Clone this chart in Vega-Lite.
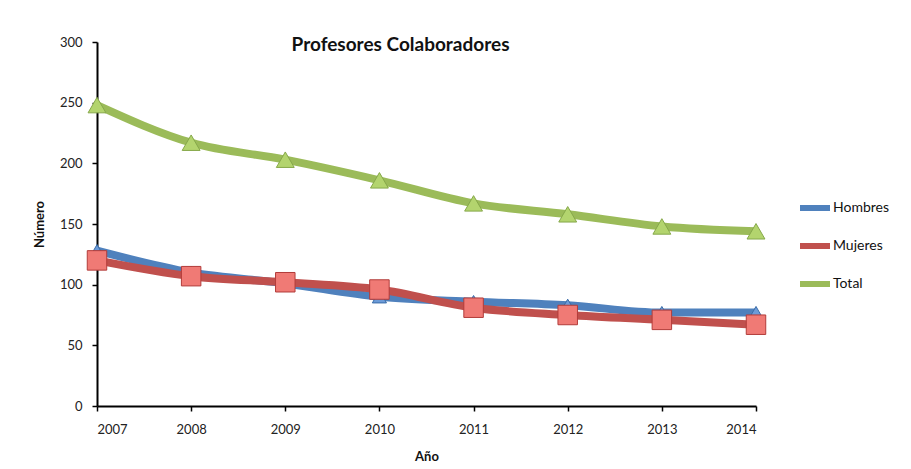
{
  "$schema": "https://vega.github.io/schema/vega-lite/v6.json",
  "width": 659,
  "height": 364,
  "autosize": {"type": "none"},
  "padding": {"left": 97, "top": 42, "right": 155, "bottom": 63},
  "background": "white",
  "config": {
    "font": "Lato",
    "view": {"stroke": null},
    "axis": {"domainColor": "black", "domainWidth": 2, "tickColor": "black", "tickWidth": 1.5, "tickSize": 5, "grid": false, "labelFont": "Lato", "labelFontSize": 13, "labelColor": "#222", "titleFont": "Lato", "titleFontSize": 13, "titleFontWeight": "bold", "titleColor": "#111"}
  },
  "title": {"text": "Profesores Colaboradores", "font": "Lato", "fontSize": 19, "fontWeight": "bold", "color": "#111", "anchor": "middle", "dx": -26, "offset": -19},
  "data": {
    "values": [
      {"anio": 2007, "serie": "Hombres", "valor": 128},
      {"anio": 2008, "serie": "Hombres", "valor": 110},
      {"anio": 2009, "serie": "Hombres", "valor": 101},
      {"anio": 2010, "serie": "Hombres", "valor": 90},
      {"anio": 2011, "serie": "Hombres", "valor": 86},
      {"anio": 2012, "serie": "Hombres", "valor": 83},
      {"anio": 2013, "serie": "Hombres", "valor": 77},
      {"anio": 2014, "serie": "Hombres", "valor": 77},
      {"anio": 2007, "serie": "Mujeres", "valor": 120},
      {"anio": 2008, "serie": "Mujeres", "valor": 107},
      {"anio": 2009, "serie": "Mujeres", "valor": 102},
      {"anio": 2010, "serie": "Mujeres", "valor": 96},
      {"anio": 2011, "serie": "Mujeres", "valor": 81},
      {"anio": 2012, "serie": "Mujeres", "valor": 75},
      {"anio": 2013, "serie": "Mujeres", "valor": 71},
      {"anio": 2014, "serie": "Mujeres", "valor": 67},
      {"anio": 2007, "serie": "Total", "valor": 248},
      {"anio": 2008, "serie": "Total", "valor": 217},
      {"anio": 2009, "serie": "Total", "valor": 203},
      {"anio": 2010, "serie": "Total", "valor": 186},
      {"anio": 2011, "serie": "Total", "valor": 167},
      {"anio": 2012, "serie": "Total", "valor": 158},
      {"anio": 2013, "serie": "Total", "valor": 148},
      {"anio": 2014, "serie": "Total", "valor": 144}
    ]
  },
  "encoding": {
    "x": {"field": "anio", "type": "quantitative", "title": "Año", "scale": {"domain": [2007, 2014], "nice": false, "zero": false},
      "axis": {"values": [2007, 2008, 2009, 2010, 2011, 2012, 2013, 2014], "format": "d", "labelPadding": 12, "titlePadding": 14}},
    "y": {"field": "valor", "type": "quantitative", "title": "Número", "scale": {"domain": [0, 300], "nice": false},
      "axis": {"values": [0, 50, 100, 150, 200, 250, 300], "labelPadding": 10, "titlePadding": 13}}
  },
  "layer": [
    {
      "mark": {"type": "line", "strokeWidth": 8, "interpolate": "monotone"},
      "encoding": {
        "color": {"field": "serie", "type": "nominal", "title": null,
          "scale": {"domain": ["Hombres", "Mujeres", "Total"], "range": ["#4F81BD", "#C0504D", "#9BBB59"]},
          "legend": {"orient": "none", "legendX": 700, "legendY": 148, "symbolType": "stroke", "symbolStrokeWidth": 6, "symbolSize": 900, "rowPadding": 8, "labelFontSize": 14, "labelFont": "Lato", "labelColor": "#111", "labelOffset": 0}}
      }
    },
    {
      "transform": [{"filter": {"field": "serie", "equal": "Hombres"}}],
      "mark": {"type": "point", "shape": "triangle-up", "size": 200, "filled": true, "opacity": 1, "fill": "#6C9BD8", "stroke": "#3A6CA8", "strokeWidth": 1}
    },
    {
      "transform": [{"filter": {"field": "serie", "equal": "Mujeres"}}],
      "mark": {"type": "point", "shape": "square", "size": 380, "filled": true, "opacity": 1, "fill": "#F07A75", "stroke": "#B23C3A", "strokeWidth": 1}
    },
    {
      "transform": [{"filter": {"field": "serie", "equal": "Total"}}],
      "mark": {"type": "point", "shape": "triangle-up", "size": 320, "filled": true, "opacity": 1, "fill": "#B3D46E", "stroke": "#86A84A", "strokeWidth": 1}
    }
  ]
}
